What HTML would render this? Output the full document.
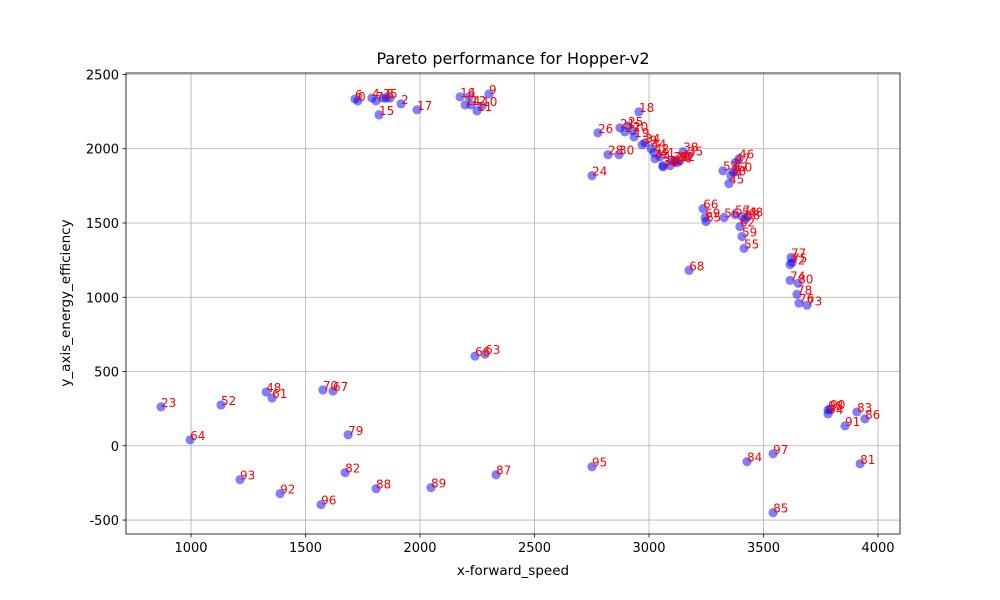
<!DOCTYPE html>
<html><head><meta charset="utf-8"><style>
body{margin:0;background:#fff;}
svg{display:block;font-family:"DejaVu Sans","Liberation Sans",sans-serif;}
</style></head><body>
<svg id="chart" width="1000" height="600"></svg>
<script>
const xs=[1716,1729,1790,1808,1838,1869,1852,1917,1821,1987,
2175,2197,2214,2223,2249,2271,2301,
2956,2777,2873,2895,2908,2930,2935,2970,2983,3009,3022,2821,2869,3026,3048,3061,3092,3105,3114,3170,3149,3122,3135,3061,2751,
3393,3376,3323,3358,3384,3367,3349,
3236,3245,3249,3328,3376,3406,3419,3432,3397,3406,3415,
3620,3625,3616,3616,3651,3646,3655,3690,3175,
3782,3791,3782,3908,3943,3856,3922,
869,996,1131,1328,1354,1576,1620,1686,1673,1808,2048,2332,2751,1214,1389,1568,2240,2284,3542,3428,3542];
const ys=[2335,2322,2342,2322,2342,2342,2342,2302,2228,2262,
2349,2295,2349,2295,2255,2288,2369,
2248,2107,2141,2114,2154,2121,2080,2027,2040,2000,1973,1960,1960,1933,1946,1879,1886,1919,1919,1953,1980,1906,1919,1886,1819,
1933,1906,1852,1819,1846,1846,1765,
1597,1537,1510,1537,1557,1544,1523,1544,1476,1409,1329,
1268,1235,1221,1114,1094,1020,960,946,1181,
242,248,215,228,181,134,-121,
262,40,275,362,322,376,369,74,-181,-289,-282,-195,-141,-228,-322,-396,604,617,-54,-107,-450];
const labels=["6","0","4","7","3","5","8","2","15","17",
"16","14","1","12","11","10","9",
"18","26","21","27","25","20","19","39","34","44","42","28","30","43","41","36","37","31","29","35","38","40","32","33","24",
"46","47","53","50","60","57","45",
"66","69","65","56","57","54","58","48","62","59","55",
"77","75","72","74","80","78","76","73","68",
"98","90","94","83","86","91","81",
"23","64","52","48","61","70","67","79","82","88","89","87","95","93","92","96","66","63","97","84","85"];
const xTicks=[1000,1500,2000,2500,3000,3500,4000];
const yTicks=[-500,0,500,1000,1500,2000,2500];

const NS="http://www.w3.org/2000/svg";
const svg=document.getElementById('chart');
const L=126,R=900,T=73,B=534;
const xmin=716,xmax=4096,ymin=-594,ymax=2510;
const sx=v=>L+(v-xmin)/(xmax-xmin)*(R-L);
const sy=v=>B-(v-ymin)/(ymax-ymin)*(B-T);
function mk(tag,attrs,parent){const e=document.createElementNS(NS,tag);for(const k in attrs)e.setAttribute(k,attrs[k]);(parent||svg).appendChild(e);return e;}
const grid=mk('g',{});


xTicks.forEach(t=>{
 const x=sx(t);
 const gl=mk('line',{x1:x,x2:x,y1:T,y2:B,stroke:'#b0b0b0','stroke-width':0.8},grid);
 
 
 mk('line',{x1:x,x2:x,y1:B,y2:B+3.5,stroke:'#000','stroke-width':0.8});
 const tx=mk('text',{x:x,y:B+18,'text-anchor':'middle','font-size':13,fill:'#000'});
 tx.textContent=t;
 
 
});
yTicks.forEach(t=>{
 const y=sy(t);
 const gl=mk('line',{x1:L,x2:R,y1:y,y2:y,stroke:'#b0b0b0','stroke-width':0.8},grid);
 
 
 mk('line',{x1:L-3.5,x2:L,y1:y,y2:y,stroke:'#000','stroke-width':0.8});
 const tx=mk('text',{x:L-7,y:y+5,'text-anchor':'end','font-size':13,fill:'#000'});
 tx.textContent=t;
 
 
});
const pts=mk('g',{});


xs.forEach((v,i)=>{
 const c=mk('circle',{cx:sx(v),cy:sy(ys[i]),r:4.6,fill:'#0000ff','fill-opacity':0.5},pts);
 
 
});
xs.forEach((v,i)=>{
 const t=mk('text',{x:sx(v),y:sy(ys[i]),'font-size':12,fill:'#ff0000'},pts);
 t.textContent=labels[i];
 
 
});
const frame=mk('rect',{x:L,y:T,width:R-L,height:B-T,fill:'none',stroke:'#000','stroke-width':0.8});


const title=mk('text',{x:(L+R)/2,y:64,'text-anchor':'middle','font-size':16,fill:'#000'});
title.textContent='Pareto performance for Hopper-v2';


const xl=mk('text',{x:(L+R)/2,y:575,'text-anchor':'middle','font-size':13.5,fill:'#000'});
xl.textContent='x-forward_speed';


const yl=mk('text',{x:0,y:0,'text-anchor':'middle','font-size':13.5,fill:'#000',transform:'translate(70,303) rotate(-90)'});
yl.textContent='y_axis_energy_efficiency';


</script>
</body></html>
